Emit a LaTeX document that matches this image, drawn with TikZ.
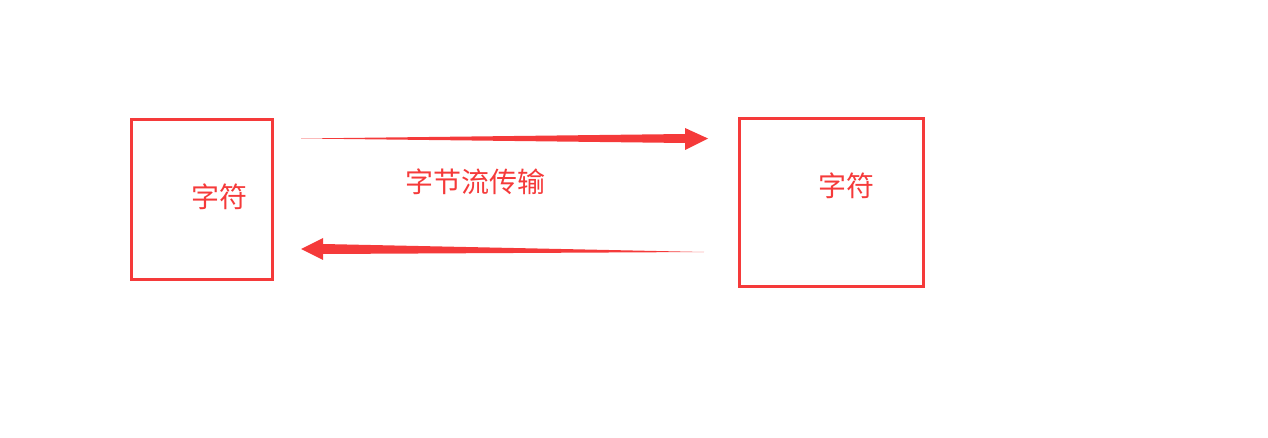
\documentclass[tikz,border=0pt]{standalone}
\usepackage{fontspec}
\newfontfamily\cjk{Noto Sans CJK SC}
\definecolor{linered}{RGB}{245,58,58}
\tikzset{
  box/.style={draw=linered, line width=3pt, inner sep=0pt},
  lbl/.style={text=linered, font=\cjk\fontsize{28}{32}\selectfont, inner sep=0pt}
}
\begin{document}
\begin{tikzpicture}[x=1pt,y=-1pt]
\useasboundingbox (0,0) rectangle (1268,438);
\node[box, minimum width=141pt, minimum height=159pt] (left) at (201.5,199.5) {};
\node[box, minimum width=184pt, minimum height=167pt] (right) at (831,202.5) {};
\node[lbl] (lefttext) at (219,197) {字符};
\node[lbl] (righttext) at (846,186) {字符};
\node[lbl] (transfer) at (475,182) {字节流传输};
% top arrow, left to right
\coordinate (toptail) at (301,138.5);
\coordinate (toptip) at (708,138.5);
\fill[linered] (toptail) -- (685,134) -- (685,128) -- (toptip) -- (685,150) -- (685,143) -- cycle;
% bottom arrow, right to left
\coordinate (bottail) at (704,252);
\coordinate (bottip) at (301,249);
\fill[linered] (bottail) -- (323,254) -- (323,260) -- (bottip) -- (323,238) -- (323,244) -- cycle;
\end{tikzpicture}
\end{document}
